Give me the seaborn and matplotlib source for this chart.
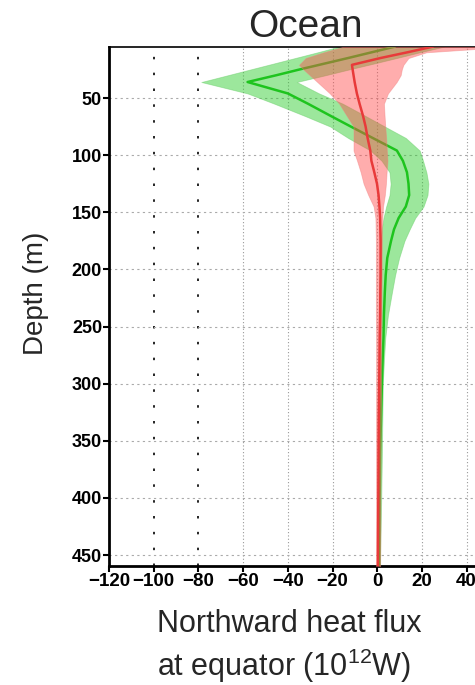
import matplotlib
matplotlib.use("Agg")
import matplotlib.pyplot as plt
import seaborn as sns
import pandas as pd
import numpy as np

# depth levels (m)
depth = [5, 10, 15, 21, 25, 30, 36, 46, 55, 66, 75, 85, 96, 105, 115, 125, 135,
         145, 155, 165, 175, 190, 205, 220, 240, 260, 280, 300, 330, 360, 400,
         430, 460]

# green series: mean and spread bounds (10^12 W)
green_mean = [8, -2.5, -13, -26, -34.7, -45, -58, -40, -31, -20.5, -11.8, -2, 8.8,
              11.5, 13.3, 14, 14.3, 12.8, 9.6, 7.5, 6.2, 4.5, 3.8, 3.4, 3.0, 2.8,
              2.4, 2.1, 1.7, 1.3, 1.1, 1.0, 0.9]
green_low = [-17, -26.7, -36.7, -48.7, -56.7, -66.7, -78.7, -58, -46, -32, -21, -13,
             -3, 2, 5.5, 6, 5.5, 4, 2.8, 2.0, 1.5, 1.2, 1.0, 0.9, 0.8, 0.8, 0.7,
             0.7, 0.7, 0.6, 0.6, 0.6, 0.6]
green_high = [30, 19, 8.7, -4, -12.6, -23, -36, -26, -15.4, -5, 3.4, 12.8, 19, 20.5,
              22, 22.9, 22.5, 20.7, 17, 14.5, 12.2, 9.8, 8.0, 6.6, 4.8, 3.6, 3.0,
              2.5, 2.3, 2.1, 1.8, 1.5, 1.2]

# red series: mean and spread bounds (10^12 W)
red_mean = [25, 13.5, 1.5, -11.3, -11, -10.6, -10.1, -9.1, -7.9, -6.3, -5.2, -4.3,
            -3.1, -2.6, -1.3, -0.1, 0.6, 1.0, 1.3, 1.4, 1.5, 1.5, 1.5, 1.4, 1.3,
            1.1, 1.0, 0.9, 0.7, 0.6, 0.5, 0.4, 0.3]
red_low = [-15, -24, -32, -35, -33, -30.2, -26.8, -21.2, -17, -13.5, -10.6, -10.6,
           -10.6, -9, -7.4, -6.1, -4, -1.6, -0.8, -0.7, -0.6, -0.6, -0.6, -0.6,
           -0.6, -0.5, -0.5, -0.5, -0.5, -0.5, -0.5, -0.5, -0.5]
red_high = [60, 22, 14, 11.7, 11, 10.5, 8.7, 4.8, 3.0, 3.3, 3.6, 4.0, 4.3, 4.6, 4.2,
            3.9, 3.4, 2.6, 2.3, 2.1, 2.1, 2.0, 2.0, 1.9, 1.9, 1.8, 1.8, 1.7, 1.6,
            1.5, 1.4, 1.4, 1.3]

xticks = [-120, -100, -80, -60, -40, -20, 0, 20, 40]
yticks = [50, 100, 150, 200, 250, 300, 350, 400, 450]

title = "Ocean"
ylabel = "Depth (m)"
xlabel = "Northward heat flux\nat equator (10$^{12}$W)"

sns.set_theme(style="white")
plt.rcParams["font.family"] = ["Liberation Sans", "DejaVu Sans"]
plt.rcParams["mathtext.fontset"] = "custom"
plt.rcParams["mathtext.rm"] = "Liberation Sans"

W, H = 475, 685
fig = plt.figure(figsize=(W / 100, H / 100), dpi=100)
left_px, right_px, top_px, bot_px = 109, 475, 47, 566
ax = fig.add_axes([left_px / W, 1 - bot_px / H, (right_px - left_px) / W,
                   (bot_px - top_px) / H])

df_g = pd.DataFrame({"depth": depth, "flux": green_mean})
df_r = pd.DataFrame({"depth": depth, "flux": red_mean})

ax.fill_betweenx(depth, green_low, green_high, color="#2ecc2e", alpha=0.47,
                 linewidth=0.6, edgecolor="#66cc66", zorder=2)
sns.lineplot(data=df_g, x="flux", y="depth", orient="y", sort=False,
             color="#1ec41e", linewidth=1.8, ax=ax, zorder=3)
ax.fill_betweenx(depth, red_low, red_high, color="#ff4a4a", alpha=0.45,
                 linewidth=0.6, edgecolor="#f08080", zorder=4)
sns.lineplot(data=df_r, x="flux", y="depth", orient="y", sort=False,
             color="#e83a3a", linewidth=1.8, ax=ax, zorder=5)

ax.set_xlim(-120, (right_px - 377) / 2.24)
ax.set_ylim(459.6, 5.36)

ax.set_xticks(xticks)
ax.set_yticks(yticks)
ax.set_xticklabels([("\u2212" + str(-t)) if t < 0 else str(t) for t in xticks],
                   fontsize=13.5, fontweight="bold")
ax.set_yticklabels([str(t) for t in yticks], fontsize=13, fontweight="bold")
ax.tick_params(axis="both", direction="out", length=4, width=1.5, colors="black",
               pad=1, bottom=True, left=True)

# grid
for t in xticks[1:]:
    if t in (-100, -80):
        ax.axvline(t, color="black", linestyle=(0, (1.5, 8)), linewidth=1.2, zorder=1)
    else:
        ax.axvline(t, color="#999999", linestyle=(0, (1, 2)), linewidth=0.8, zorder=1)
for t in yticks:
    ax.axhline(t, color="#aaaaaa", linestyle=(0, (2, 3)), linewidth=0.8, zorder=1)

for s in ["left", "bottom"]:
    ax.spines[s].set_linewidth(2)
    ax.spines[s].set_color("black")
ax.spines["top"].set_linewidth(1.2)
ax.spines["top"].set_color("black")
ax.spines["right"].set_visible(False)

ax.set_xlabel("")
ax.set_ylabel("")

fig.text(305 / W, 1 - 37 / H, title, ha="center", va="baseline", fontsize=28)
fig.text(36 / W, 1 - 293 / H, ylabel, ha="center", va="center", rotation=90,
         fontsize=20)
fig.text(157 / W, 1 - 676 / H, xlabel, ha="left", va="baseline", fontsize=22,
         linespacing=1.25)

fig.savefig("out.png", dpi=100)
